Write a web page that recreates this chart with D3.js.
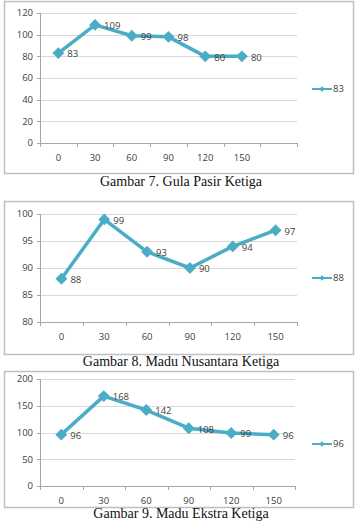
<!DOCTYPE html>
<html>
<head>
<meta charset="utf-8">
<script src="https://cdn.jsdelivr.net/npm/d3@7"></script>
<style>
  body { margin: 0; background: #fff; }
  svg { display: block; }
  .caption { font-family: "Liberation Serif", "DejaVu Serif", serif; font-size: 14px; fill: #111; }
  .tick-label, .data-label, .legend-label { font-family: "Open Sans", "DejaVu Sans", sans-serif; font-size: 9.5px; fill: #404040; }
</style>
</head>
<body>
<div id="chart"></div>
<script>
// x categories (minutes)
const times = ['0', '30', '60', '90', '120', '150'];

// series values
const gulaPasir = [83, 109, 99, 98, 80, 80];
const maduNusantara = [88, 99, 93, 90, 94, 97];
const maduEkstra = [96, 168, 142, 108, 99, 96];

// y tick labels
const ticks1 = [0, 20, 40, 60, 80, 100, 120];
const ticks2 = [80, 85, 90, 95, 100];
const ticks3 = [0, 50, 100, 150, 200];

const captions = ['Gambar 7. Gula Pasir Ketiga', 'Gambar 8. Madu Nusantara Ketiga', 'Gambar 9. Madu Ekstra Ketiga'];

const W = 359, H = 522;
const lineColor = '#4bacc6';

const svg = d3.select('#chart').append('svg')
    .attr('width', W).attr('height', H);

function drawChart(opt) {
    const g = svg.append('g');

    // outer box
    g.append('rect')
        .attr('x', 4.5).attr('y', opt.boxTop + 0.5)
        .attr('width', 349).attr('height', opt.boxBottom - opt.boxTop)
        .attr('fill', 'none').attr('stroke', '#bfbfbf').attr('stroke-width', 1.5);

    const x = d3.scaleBand()
        .domain(opt.bands)
        .range([40, opt.right]);

    const y = d3.scaleLinear()
        .domain([opt.ticks[0], opt.ticks[opt.ticks.length - 1]])
        .range([opt.bottom, opt.top]);

    // gridlines
    g.selectAll('.grid')
        .data(opt.ticks.slice(1))
        .enter().append('line')
        .attr('x1', 40).attr('x2', opt.right)
        .attr('y1', d => Math.round(y(d)) + 0.5).attr('y2', d => Math.round(y(d)) + 0.5)
        .attr('stroke', '#d9d9d9').attr('stroke-width', 1);

    // y axis
    g.append('line')
        .attr('x1', 40.5).attr('x2', 40.5)
        .attr('y1', opt.top).attr('y2', opt.bottom)
        .attr('stroke', '#a6a6a6');
    g.selectAll('.ytick')
        .data(opt.ticks)
        .enter().append('line')
        .attr('x1', 37).attr('x2', 40)
        .attr('y1', d => Math.round(y(d)) + 0.5).attr('y2', d => Math.round(y(d)) + 0.5)
        .attr('stroke', '#a6a6a6');
    g.selectAll('.ylab')
        .data(opt.ticks)
        .enter().append('text')
        .attr('class', 'tick-label')
        .attr('x', 33).attr('y', d => y(d))
        .attr('dy', '0.35em')
        .attr('text-anchor', 'end')
        .text(d => d);

    // x axis
    g.append('line')
        .attr('x1', 40).attr('x2', opt.right)
        .attr('y1', Math.round(opt.bottom) + 0.5).attr('y2', Math.round(opt.bottom) + 0.5)
        .attr('stroke', '#a6a6a6');
    const edges = opt.bands.map(b => x(b)).concat([opt.right]);
    g.selectAll('.xtick')
        .data(edges)
        .enter().append('line')
        .attr('x1', d => Math.round(d) + 0.5).attr('x2', d => Math.round(d) + 0.5)
        .attr('y1', opt.bottom).attr('y2', opt.bottom + 4)
        .attr('stroke', '#a6a6a6');
    g.selectAll('.xlab')
        .data(times)
        .enter().append('text')
        .attr('class', 'tick-label')
        .attr('x', d => x(d) + x.bandwidth() / 2)
        .attr('y', opt.bottom + 15)
        .attr('dy', '0.35em')
        .attr('text-anchor', 'middle')
        .text(d => d);

    // line
    const pts = opt.values.map((v, i) => [x(times[i]) + x.bandwidth() / 2, y(v)]);
    g.append('path')
        .attr('d', d3.line()(pts))
        .attr('fill', 'none')
        .attr('stroke', lineColor)
        .attr('stroke-width', 3.5)
        .attr('stroke-linejoin', 'round');

    const diamond = d3.symbol().type(d3.symbolDiamond2).size(90);
    g.selectAll('.marker')
        .data(pts)
        .enter().append('path')
        .attr('d', diamond)
        .attr('transform', d => `translate(${d[0]},${d[1]})`)
        .attr('fill', lineColor);

    g.selectAll('.dlab')
        .data(opt.values)
        .enter().append('text')
        .attr('class', 'data-label')
        .attr('x', (d, i) => pts[i][0] + 9)
        .attr('y', (d, i) => pts[i][1] + 1)
        .attr('dy', '0.35em')
        .text(d => d);

    // legend
    const ly = opt.legendY;
    g.append('line')
        .attr('x1', 312).attr('x2', 332)
        .attr('y1', ly).attr('y2', ly)
        .attr('stroke', lineColor).attr('stroke-width', 2);
    g.append('path')
        .attr('d', d3.symbol().type(d3.symbolDiamond2).size(18))
        .attr('transform', `translate(322,${ly})`)
        .attr('fill', lineColor);
    g.append('text')
        .attr('class', 'legend-label')
        .attr('x', 333).attr('y', ly)
        .attr('dy', '0.35em')
        .text(opt.values[0]);

    // caption
    svg.append('text')
        .attr('class', 'caption')
        .attr('x', 181).attr('y', opt.captionY)
        .attr('text-anchor', 'middle')
        .text(opt.caption);
}

drawChart({
    values: gulaPasir, ticks: ticks1,
    bands: times.concat(['']),
    boxTop: 1, boxBottom: 173,
    top: 13, bottom: 143, right: 297,
    legendY: 89, caption: captions[0], captionY: 186
});

drawChart({
    values: maduNusantara, ticks: ticks2,
    bands: times,
    boxTop: 201, boxBottom: 354,
    top: 214, bottom: 322, right: 297,
    legendY: 278, caption: captions[1], captionY: 366
});

drawChart({
    values: maduEkstra, ticks: ticks3,
    bands: times,
    boxTop: 371, boxBottom: 507,
    top: 379, bottom: 486, right: 295,
    legendY: 444, caption: captions[2], captionY: 518
});
</script>
</body>
</html>
